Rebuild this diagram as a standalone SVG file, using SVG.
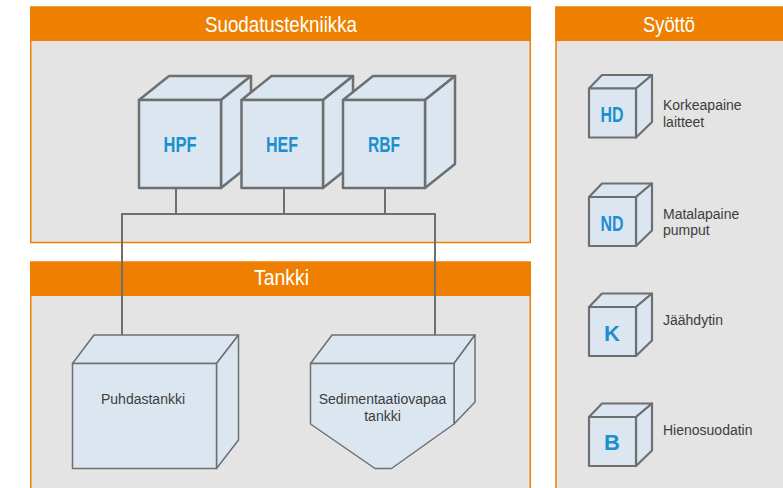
<svg xmlns="http://www.w3.org/2000/svg" width="783" height="488" viewBox="0 0 783 488">
<style>
.body{fill:#e3e4e3;stroke:#ee7f00;stroke-width:1.5}
.head{fill:#ee7f00}
.title{font-family:"Liberation Sans Narrow","Liberation Sans",Arial,sans-serif;font-size:22px;fill:#ffffff;text-anchor:middle}
.cube{fill:#dce6f1;stroke:#6e6f71;stroke-linejoin:round}
.big{stroke-width:2.5}
.small{stroke-width:2.2}
.tank{stroke-width:1.5}
.lbl{font-family:"Liberation Sans Narrow","Liberation Sans",Arial,sans-serif;font-size:22px;font-weight:bold;fill:#1b8fcf;text-anchor:middle}
.txt{font-family:"Liberation Sans",Arial,sans-serif;font-size:14px;fill:#3d3d3d}
.mid{text-anchor:middle}
.conn{fill:none;stroke:#6e6f71;stroke-width:2}
</style>
<rect width="783" height="488" fill="#ffffff"/>
<g id="panel-suodatus">
<rect class="body" x="30.75" y="7" width="499.5" height="235.5"/>
<rect class="head" x="30" y="7" width="501" height="34"/>
<text class="title" x="281" y="32" textLength="152" lengthAdjust="spacingAndGlyphs">Suodatustekniikka</text>
</g>
<g id="panel-tankki">
<rect class="body" x="30.75" y="262" width="499.5" height="240"/>
<rect class="head" x="30" y="262" width="501" height="34"/>
<text class="title" x="281.5" y="284.5" textLength="55" lengthAdjust="spacingAndGlyphs">Tankki</text>
</g>
<g id="panel-syotto">
<rect class="body" x="556" y="7" width="240" height="490"/>
<rect class="head" x="555.25" y="7" width="240" height="34"/>
<text class="title" x="669" y="32" textLength="52" lengthAdjust="spacingAndGlyphs">Syöttö</text>
</g>
<g id="connectors">
<path class="conn" d="M176 188V214M284 188V214M385 188V214M122 214H435M122 213V352M435 213V348"/>
</g>
<g id="node-hpf">
<polygon class="cube big" points="139,100 169,76 251,76 221,100"/>
<polygon class="cube big" points="221,100 251,76 251,164 221,188"/>
<rect class="cube big" x="139" y="100" width="82" height="88"/>
<text class="lbl" x="180" y="152" textLength="33" lengthAdjust="spacingAndGlyphs">HPF</text>
</g>
<g id="node-hef">
<polygon class="cube big" points="241.5,100 271.5,76 353,76 323,100"/>
<polygon class="cube big" points="323,100 353,76 353,164 323,188"/>
<rect class="cube big" x="241.5" y="100" width="81.5" height="88"/>
<text class="lbl" x="282" y="152" textLength="32" lengthAdjust="spacingAndGlyphs">HEF</text>
</g>
<g id="node-rbf">
<polygon class="cube big" points="343,100 373,76 455,76 425,100"/>
<polygon class="cube big" points="425,100 455,76 455,164 425,188"/>
<rect class="cube big" x="343" y="100" width="82" height="88"/>
<text class="lbl" x="384" y="152" textLength="32" lengthAdjust="spacingAndGlyphs">RBF</text>
</g>
<g id="node-puhdastankki">
<polygon class="cube tank" points="72.5,363.5 94,335 238.5,335 216.5,363.5"/>
<polygon class="cube tank" points="216.5,363.5 238.5,335 238.5,440 216.5,468.5"/>
<rect class="cube tank" x="72.5" y="363.5" width="144" height="105"/>
<text class="txt mid" x="143" y="403.5">Puhdastankki</text>
</g>
<g id="node-sedimentaatio">
<polygon class="cube tank" points="310.5,363.5 332,335 475,335 454,363.5"/>
<polygon class="cube tank" points="454,363.5 475,335 475,402 454,424"/>
<polygon class="cube tank" points="310.5,363.5 454,363.5 454,424 391.5,468.5 375,468.5 310.5,424"/>
<text class="txt mid" x="382.5" y="403.5">Sedimentaatiovapaa</text>
<text class="txt mid" x="382.5" y="420.5">tankki</text>
</g>
<g id="node-hd">
<polygon class="cube small" points="589,88.5 602,75 652,75 636,88.5"/>
<polygon class="cube small" points="636,88.5 652,75 652,122 636,137.5"/>
<rect class="cube small" x="589" y="88.5" width="47" height="49"/>
<text class="lbl" x="612" y="122" textLength="23" lengthAdjust="spacingAndGlyphs">HD</text>
<text class="txt" x="663" y="109.5">Korkeapaine</text>
<text class="txt" x="663" y="126.5">laitteet</text>
</g>
<g id="node-nd">
<polygon class="cube small" points="589,197 602,183.5 652,183.5 636,197"/>
<polygon class="cube small" points="636,197 652,183.5 652,230.5 636,246"/>
<rect class="cube small" x="589" y="197" width="47" height="49"/>
<text class="lbl" x="612" y="230.5" textLength="23" lengthAdjust="spacingAndGlyphs">ND</text>
<text class="txt" x="663" y="218.5">Matalapaine</text>
<text class="txt" x="663" y="235">pumput</text>
</g>
<g id="node-k">
<polygon class="cube small" points="589,307 602,293.5 652,293.5 636,307"/>
<polygon class="cube small" points="636,307 652,293.5 652,340.5 636,356"/>
<rect class="cube small" x="589" y="307" width="47" height="49"/>
<text class="lbl" x="612" y="340.5">K</text>
<text class="txt" x="663" y="325">Jäähdytin</text>
</g>
<g id="node-b">
<polygon class="cube small" points="589,417 602,403.5 652,403.5 636,417"/>
<polygon class="cube small" points="636,417 652,403.5 652,450.5 636,466"/>
<rect class="cube small" x="589" y="417" width="47" height="49"/>
<text class="lbl" x="612" y="450">B</text>
<text class="txt" x="663" y="435">Hienosuodatin</text>
</g>
</svg>
